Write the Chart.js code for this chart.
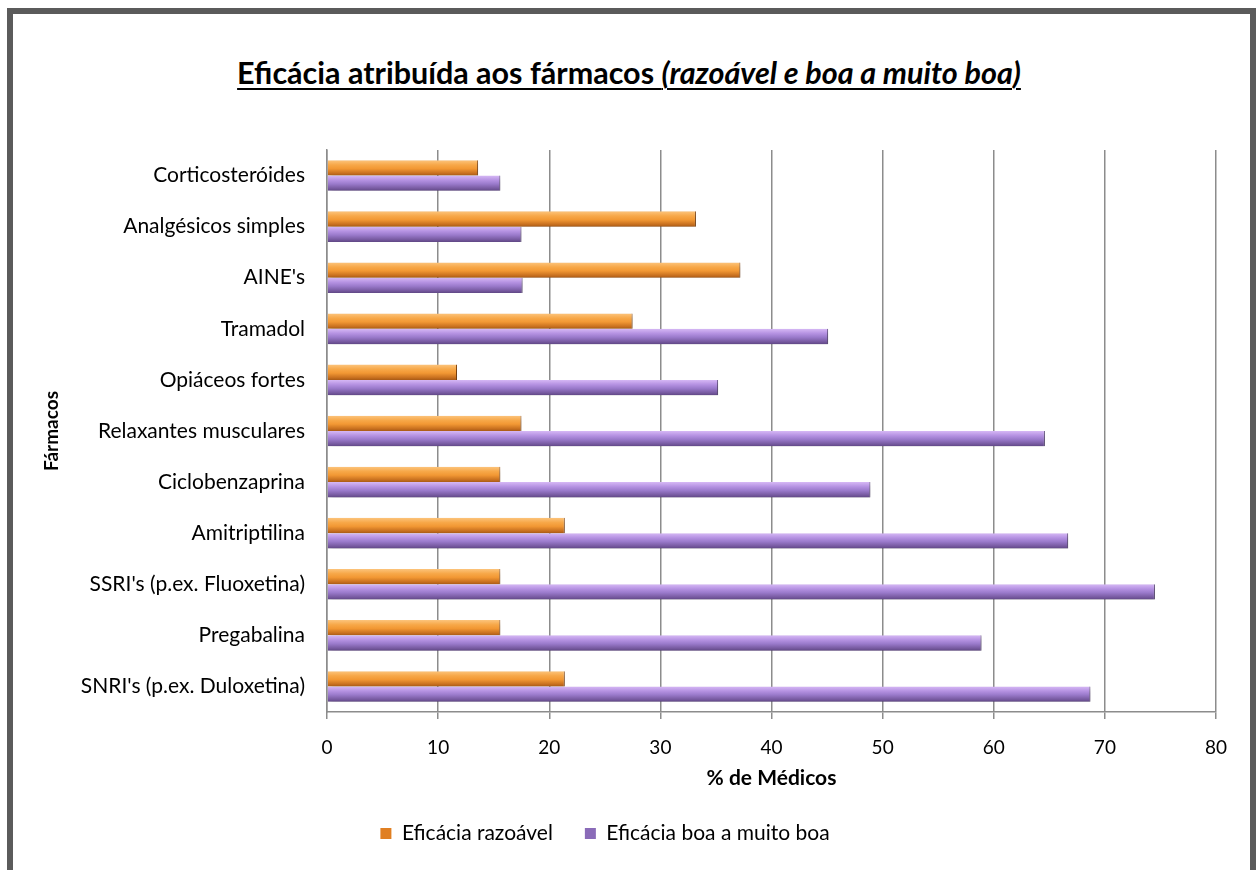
<!DOCTYPE html>
<html>
<head>
<meta charset="utf-8">
<script src="https://cdn.jsdelivr.net/npm/chart.js@4.4.1/dist/chart.umd.min.js"></script>
<style>
  html, body { margin: 0; padding: 0; background: #ffffff; }
  #frame {
    position: absolute; left: 7px; top: 8px; width: 1237px; height: 900px;
    border: 6px solid #5b5b5b; border-bottom: none; box-sizing: content-box;
  }
  #title {
    position: absolute; left: 0; top: 54px; width: 1258px; text-align: center;
    font-family: Lato, "Open Sans", sans-serif; font-weight: bold; font-size: 30.5px;
    color: #000; text-decoration: underline; text-decoration-thickness: 2px;
    text-underline-offset: 4px;
  }
  #c { position: absolute; left: 0; top: 0; }
</style>
</head>
<body>
<div id="frame"></div>
<div id="title">Eficácia atribuída aos fármacos <i>(razoável e boa a muito boa)</i></div>
<canvas id="c" width="1258" height="870"></canvas>
<script>
// Drug classes, listed top to bottom
const categories = [
  "Corticosteróides",
  "Analgésicos simples",
  "AINE's",
  "Tramadol",
  "Opiáceos fortes",
  "Relaxantes musculares",
  "Ciclobenzaprina",
  "Amitriptilina",
  "SSRI's (p.ex. Fluoxetina)",
  "Pregabalina",
  "SNRI's (p.ex. Duloxetina)"
];

// % of physicians rating the efficacy as reasonable
const razoavel = [13.6, 33.2, 37.2, 27.5, 11.7, 17.5, 15.6, 21.4, 15.6, 15.6, 21.4];
// % of physicians rating the efficacy as good to very good
const boaMuitoBoa = [15.6, 17.5, 17.6, 45.1, 35.2, 64.6, 48.9, 66.7, 74.5, 58.9, 68.7];

const seriesNames = ["Eficácia razoável", "Eficácia boa a muito boa"];
const xTicks = [0, 10, 20, 30, 40, 50, 60, 70, 80];

const FONT = "Lato, 'Open Sans', sans-serif";
const CAT_PCT = 0.6;

// vertical glossy gradient for one bar, spanning its own thickness
const palettes = [
  ["#fcc47c", "#f7a849", "#f29834", "#c8701f", "#a85a16"],
  ["#d6b8f5", "#b592e2", "#9a7acb", "#76599f", "#5f4784"]
];
function barGradient(ctx, dsIndex) {
  const chart = ctx.chart;
  const y = chart.scales.y;
  if (!y || !chart.chartArea) return palettes[dsIndex][2];
  const center = y.getPixelForValue(ctx.dataIndex);
  const band = (y.bottom - y.top) / categories.length;
  const thick = band * CAT_PCT / 2;
  const top = center - band * CAT_PCT / 2 + dsIndex * thick;
  const g = chart.ctx.createLinearGradient(0, top, 0, top + thick);
  const p = palettes[dsIndex];
  g.addColorStop(0, p[0]);
  g.addColorStop(0.3, p[1]);
  g.addColorStop(0.55, p[2]);
  g.addColorStop(0.85, p[3]);
  g.addColorStop(1, p[4]);
  return g;
}

// soft drop shadow under the bars
const barShadow = {
  id: "barShadow",
  beforeDatasetsDraw(chart) {
    const c = chart.ctx;
    c.save();
    c.shadowColor = "rgba(0,0,0,0.28)";
    c.shadowBlur = 5;
    c.shadowOffsetX = 2;
    c.shadowOffsetY = 3;
  },
  afterDatasetsDraw(chart) {
    chart.ctx.restore();
  }
};

// nudge the legend row a little left of the canvas centre
const legendShift = {
  id: "legendShift",
  afterLayout(chart) {
    const l = chart.legend;
    if (l) { l.left -= 23; l.right -= 23; }
  }
};

new Chart(document.getElementById("c"), {
  type: "bar",
  data: {
    labels: categories,
    datasets: [
      {
        label: seriesNames[0],
        data: razoavel,
        backgroundColor: (ctx) => barGradient(ctx, 0),
        borderColor: "#8a4a12",
        borderWidth: { top: 0, bottom: 0, left: 0, right: 1 },
        borderSkipped: false,
        categoryPercentage: CAT_PCT,
        barPercentage: 1.0
      },
      {
        label: seriesNames[1],
        data: boaMuitoBoa,
        backgroundColor: (ctx) => barGradient(ctx, 1),
        borderColor: "#4e3a70",
        borderWidth: { top: 0, bottom: 0, left: 0, right: 1 },
        borderSkipped: false,
        categoryPercentage: CAT_PCT,
        barPercentage: 1.0
      }
    ]
  },
  options: {
    indexAxis: "y",
    responsive: false,
    animation: false,
    layout: { padding: { top: 150, left: 40, right: 42, bottom: 16 } },
    scales: {
      x: {
        min: 0,
        max: 80,
        afterBuildTicks(scale) {
          scale.ticks = xTicks.map(v => ({ value: v }));
        },
        afterFit(scale) { scale.height = 79; },
        grid: {
          color: "#8c8c8c",
          lineWidth: 1.5,
          drawTicks: true,
          tickLength: 7,
          tickColor: "#8c8c8c"
        },
        border: { display: true, color: "#8c8c8c", width: 1.5 },
        ticks: {
          color: "#000",
          font: { family: FONT, size: 19 },
          padding: 17,
          maxRotation: 0
        },
        title: {
          display: true,
          text: "% de Médicos",
          color: "#000",
          font: { family: FONT, size: 21, weight: "bold" },
          padding: { top: 0, bottom: 0 }
        }
      },
      y: {
        grid: { display: false, drawTicks: false },
        border: { display: true, color: "#8c8c8c", width: 1.5 },
        afterFit(scale) { scale.width = 287; },
        ticks: {
          color: "#000",
          font: { family: FONT, size: 21 },
          padding: 22
        },
        title: {
          display: true,
          text: "Fármacos",
          color: "#000",
          font: { family: FONT, size: 19, weight: "bold" },
          padding: 0
        }
      }
    },
    plugins: {
      legend: {
        position: "bottom",
        labels: {
          color: "#000",
          font: { family: FONT, size: 21 },
          boxWidth: 11,
          boxHeight: 11,
          padding: 32,
          generateLabels(chart) {
            const solid = ["#e07f22", "#8a6bb8"];
            return chart.data.datasets.map((ds, i) => ({
              text: ds.label,
              fillStyle: solid[i],
              strokeStyle: solid[i],
              lineWidth: 0,
              hidden: false,
              datasetIndex: i,
              fontColor: "#000"
            }));
          }
        }
      },
      tooltip: { enabled: false }
    }
  },
  plugins: [barShadow, legendShift]
});
</script>
</body>
</html>
